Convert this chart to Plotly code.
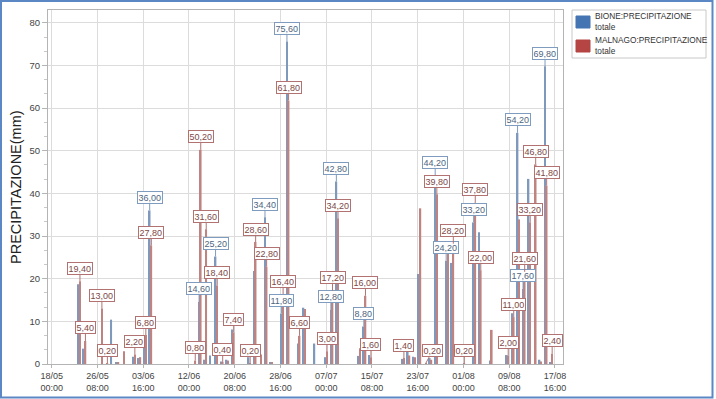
import pandas as pd
import plotly.graph_objects as go

# ---------------- data ----------------
dates = pd.date_range("2013-05-18", "2013-08-17", freq="D")

bione = [
    0, 0, 0, 0, 0, 18.7, 3.6, 0, 0, 0,
    0, 10.4, 0.4, 0, 0, 1.7, 1.4, 4.5, 36.0, 0,
    0, 0, 0, 0, 0, 0, 0, 14.6, 1.0, 2.0,
    25.2, 0.6, 1.0, 8.1, 0, 0, 1.6, 21.8, 0, 34.4,
    0.3, 0, 11.8, 75.6, 0, 4.8, 13.2, 0, 4.8, 0,
    1.6, 12.8, 42.8, 0, 0, 0, 1.9, 8.8, 2.1, 0,
    0, 0, 0, 0, 1.2, 3.3, 1.7, 21.1, 0, 1.4,
    44.2, 0, 24.2, 23.7, 0, 0, 0, 33.2, 30.9, 0,
    0.8, 0, 0, 2.1, 11.9, 54.2, 17.6, 43.4, 0, 1.0,
    69.8, 0.4,
]
malnago = [
    0, 0, 0, 0, 0, 19.4, 5.4, 0, 0, 13.0,
    0.2, 0, 0.3, 3.0, 0, 2.2, 1.6, 6.8, 27.8, 0,
    0, 0, 0, 0, 0, 0, 0.8, 50.2, 31.6, 0,
    18.4, 0.4, 0.8, 7.4, 0, 0, 0.2, 28.6, 2.2, 22.8,
    0.3, 0, 16.4, 61.8, 0, 6.6, 12.9, 0, 0, 0,
    3.0, 17.2, 34.2, 0, 0, 0, 3.7, 16.0, 1.6, 0,
    0, 0, 0, 0, 1.4, 2.0, 1.6, 36.5, 0.2, 1.0,
    39.8, 0, 25.9, 28.2, 0, 0.2, 0, 37.8, 22.0, 0,
    8.0, 0, 0, 2.0, 11.0, 33.9, 21.6, 33.2, 46.8, 0.6,
    41.8, 2.4,
]

series_names = ["BIONE:PRECIPITAZIONE<br>totale", "MALNAGO:PRECIPITAZIONE<br>totale"]
y_title = "PRECIPITAZIONE(mm)"

labeled_bione = ["2013-06-05", "2013-06-14", "2013-06-17", "2013-06-26", "2013-06-29",
                 "2013-06-30", "2013-07-08", "2013-07-09", "2013-07-14", "2013-07-27",
                 "2013-07-29", "2013-08-03", "2013-08-11", "2013-08-12", "2013-08-16"]
labeled_malnago = ["2013-05-23", "2013-05-24", "2013-05-27", "2013-05-28", "2013-06-02",
                   "2013-06-04", "2013-06-05", "2013-06-13", "2013-06-14", "2013-06-15",
                   "2013-06-17", "2013-06-18", "2013-06-20", "2013-06-23", "2013-06-24",
                   "2013-06-26", "2013-06-29", "2013-06-30", "2013-07-02", "2013-07-07",
                   "2013-07-08", "2013-07-09", "2013-07-14", "2013-07-15", "2013-07-21",
                   "2013-07-25", "2013-07-27", "2013-07-30", "2013-08-01", "2013-08-03",
                   "2013-08-04", "2013-08-09", "2013-08-10", "2013-08-12", "2013-08-13",
                   "2013-08-14", "2013-08-16", "2013-08-17"]

# ---------------- style / layout constants ----------------
W, H = 716, 399
ML, MR, MT, MB = 48, 153, 10, 35
PW, PH = W - ML - MR, H - MT - MB
FONT = "Liberation Sans"

BLUE_BAR, RED_BAR = "#7f99bc", "#bf8381"
BLUE_LEG, RED_LEG = "#4574b3", "#b44543"
BLUE_BOX, RED_BOX = "#7f9cbf", "#b27272"
BLUE_TXT, RED_TXT = "#4e6580", "#7d4848"

BAR_W_DAYS = 0.3
DAY_MS = 86400000
label_dx = {("M", "2013-07-25"): 7}


def pxx(x):
    return (x - ML) / PW


def pxy(y):
    return (H - MB - y) / PH


fig = go.Figure()
fig.add_trace(go.Bar(x=dates, y=bione, name=series_names[0], width=BAR_W_DAYS * DAY_MS,
                     offset=-BAR_W_DAYS * DAY_MS, marker=dict(color=BLUE_BAR, line=dict(width=0)),
                     showlegend=False))
fig.add_trace(go.Bar(x=dates, y=malnago, name=series_names[1], width=BAR_W_DAYS * DAY_MS,
                     offset=0, marker=dict(color=RED_BAR, line=dict(width=0)),
                     showlegend=False))

keys = dates.strftime("%Y-%m-%d")
bmap = dict(zip(keys, bione))
mmap = dict(zip(keys, malnago))

annotations = []


def add_label(day, val, sign, box, txt, tag):
    xc = pd.Timestamp(day) + pd.Timedelta(days=sign * BAR_W_DAYS / 2)
    annotations.append(dict(
        x=xc.strftime("%Y-%m-%d %H:%M:%S"), y=val, xref="x", yref="y",
        text=f"{val:.2f}".replace(".", ","), showarrow=True, arrowhead=0,
        arrowwidth=1, arrowcolor=box, ax=label_dx.get((tag, day), 0), ay=-13,
        bgcolor="white", bordercolor=box, borderwidth=1, borderpad=0.5,
        font=dict(family=FONT, size=9, color=txt)))


for d in labeled_bione:
    add_label(d, bmap[d], -1, BLUE_BOX, BLUE_TXT, "B")
for d in labeled_malnago:
    add_label(d, mmap[d], 1, RED_BOX, RED_TXT, "M")

# y-axis title
annotations.append(dict(x=pxx(16), y=0.5, xref="paper", yref="paper", text=y_title,
                        textangle=-90, showarrow=False, xanchor="center", yanchor="middle",
                        font=dict(family=FONT, size=14.5, color="#222")))

# custom legend
shapes = []
shapes.append(dict(type="rect", xref="paper", yref="paper", x0=pxx(572), x1=pxx(706),
                   y0=pxy(58), y1=pxy(10), line=dict(color="#c8c8c8", width=1),
                   fillcolor="white", layer="above"))
for i, (nm, col) in enumerate(zip(series_names, [BLUE_LEG, RED_LEG])):
    top = 16 + i * 24
    shapes.append(dict(type="rect", xref="paper", yref="paper", x0=pxx(576), x1=pxx(590),
                       y0=pxy(top + 12), y1=pxy(top), line=dict(color=col, width=1),
                       fillcolor=col, layer="above"))
    annotations.append(dict(x=pxx(592.5), y=pxy(top + 5.5), xref="paper", yref="paper",
                            text=nm, showarrow=False, xanchor="left", yanchor="middle",
                            align="left", font=dict(family=FONT, size=8.3, color="#333")))

# outer frame
shapes.append(dict(type="rect", xref="paper", yref="paper", x0=pxx(1), x1=pxx(712.5),
                   y0=pxy(397.5), y1=pxy(1), line=dict(color="#5b87c5", width=2),
                   layer="above"))

fig.update_layout(
    width=W, height=H, margin=dict(l=ML, r=MR, t=MT, b=MB, autoexpand=False),
    paper_bgcolor="white", plot_bgcolor="white", barmode="overlay",
    annotations=annotations, shapes=shapes, showlegend=False,
    font=dict(family=FONT, color="#444"),
)
fig.update_xaxes(
    type="date", range=["2013-05-17 08:00", "2013-08-19 03:00"], automargin=False,
    tick0="2013-05-18 00:00", dtick=200 * 3600 * 1000, tickformat="%d/%m<br>%H:%M",
    showgrid=True, gridcolor="#dcdcdc", gridwidth=1,
    showline=True, linecolor="#b4b4b4", mirror=True,
    ticks="outside", ticklen=3, tickcolor="#b4b4b4",
    tickfont=dict(family=FONT, size=9, color="#444"), zeroline=False,
)
fig.update_yaxes(
    range=[0, 83], dtick=10, tick0=0, automargin=False,
    showgrid=True, gridcolor="#dcdcdc", gridwidth=1,
    showline=True, linecolor="#b4b4b4", mirror=True,
    ticks="outside", ticklen=5, tickcolor="#b4b4b4",
    minor=dict(dtick=10 / 3, ticks="outside", ticklen=3, tickcolor="#c8c8c8", showgrid=False),
    tickfont=dict(family=FONT, size=9.5, color="#444"), zeroline=False,
)

fig.write_html("out.html", config={"displayModeBar": False},
               post_script="document.body.style.margin='0';document.body.style.overflow='hidden';")
